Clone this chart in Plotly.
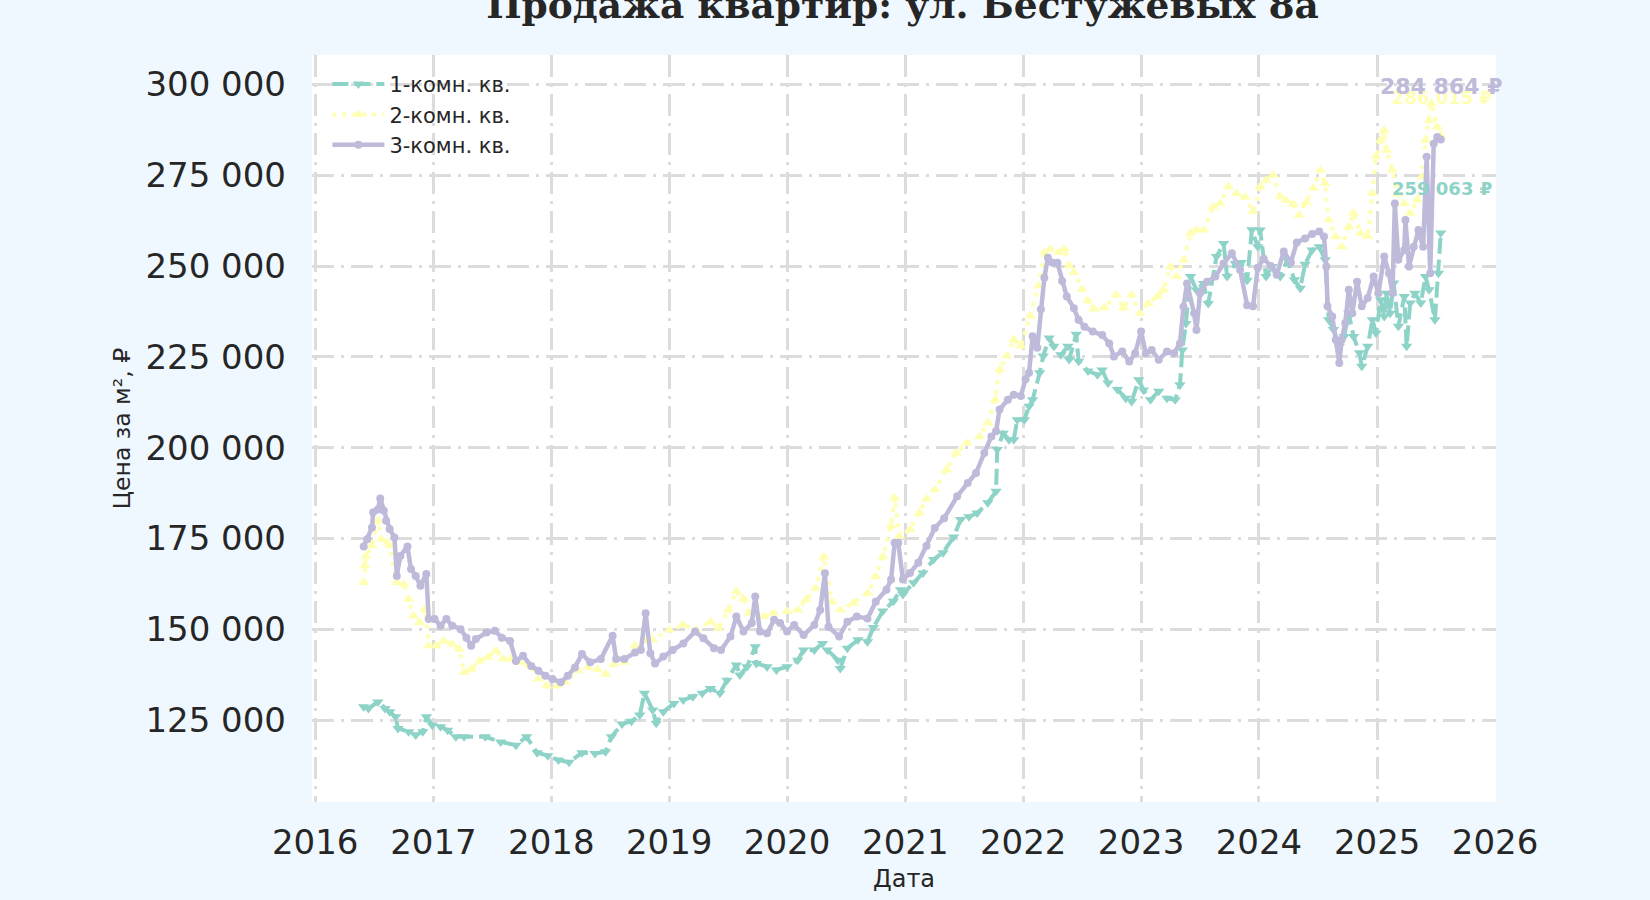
import pandas as pd
import plotly.graph_objects as go

# даты в долях года, цены за м² (тыс. руб.)
years_1k = [2016.41, 2016.45, 2016.53, 2016.59, 2016.63, 2016.68, 2016.70, 2016.79, 2016.85, 2016.91,
            2016.94, 2016.99, 2017.06, 2017.12, 2017.19, 2017.26, 2017.44, 2017.57, 2017.70, 2017.79,
            2017.88, 2017.97, 2018.06, 2018.15, 2018.26, 2018.37, 2018.46, 2018.51, 2018.60, 2018.68,
            2018.75, 2018.79, 2018.86, 2018.89, 2018.95, 2019.04, 2019.12, 2019.20, 2019.28, 2019.35,
            2019.43, 2019.49, 2019.57, 2019.60, 2019.66, 2019.73, 2019.74, 2019.83, 2019.91, 2020.00,
            2020.09, 2020.14, 2020.23, 2020.30, 2020.34, 2020.43, 2020.45, 2020.51, 2020.60, 2020.68,
            2020.73, 2020.81, 2020.90, 2020.96, 2020.98, 2021.07, 2021.15, 2021.24, 2021.32, 2021.41,
            2021.47, 2021.54, 2021.61, 2021.70, 2021.77, 2021.78, 2021.83, 2021.88, 2021.92, 2021.95,
            2022.01, 2022.05, 2022.08, 2022.14, 2022.17, 2022.22, 2022.26, 2022.32, 2022.38, 2022.39,
            2022.45, 2022.47, 2022.55, 2022.63, 2022.67, 2022.72, 2022.80, 2022.87, 2022.92, 2022.98,
            2023.02, 2023.08, 2023.15, 2023.22, 2023.29, 2023.33, 2023.35, 2023.38, 2023.42, 2023.47,
            2023.53, 2023.57, 2023.64, 2023.70, 2023.73, 2023.80, 2023.85, 2023.90, 2023.94, 2023.99,
            2024.01, 2024.06, 2024.11, 2024.18, 2024.24, 2024.30, 2024.35, 2024.39, 2024.45, 2024.51,
            2024.56, 2024.59, 2024.63, 2024.68, 2024.72, 2024.76, 2024.80, 2024.85, 2024.87, 2024.92,
            2024.96, 2024.99, 2025.03, 2025.06, 2025.08, 2025.11, 2025.14, 2025.18, 2025.23, 2025.25,
            2025.28, 2025.32, 2025.37, 2025.41, 2025.44, 2025.49, 2025.52, 2025.54]
price_1k = [128.7, 128.2, 130.0, 128.2, 127.3, 125.9, 122.7, 121.8, 120.9, 121.8,
            125.9, 123.6, 123.2, 122.2, 120.4, 120.4, 120.4, 119.0, 118.1, 120.4,
            116.0, 115.2, 114.0, 113.4, 116.0, 115.8, 116.3, 120.4, 123.9, 124.7,
            126.4, 132.4, 127.8, 124.1, 127.3, 129.6, 130.5, 131.4, 132.4, 133.7,
            132.4, 136.0, 140.2, 137.4, 139.7, 145.2, 140.6, 139.7, 138.8, 139.7,
            141.5, 144.3, 144.3, 146.1, 144.3, 141.5, 139.2, 144.8, 147.1, 146.6,
            150.5, 155.0, 157.7, 160.9, 159.6, 162.8, 165.5, 169.2, 171.1, 175.4,
            180.2, 181.0, 182.0, 184.8, 188.0, 199.5, 204.0, 202.2, 202.2, 207.7,
            207.7, 211.4, 213.2, 220.6, 225.2, 230.2, 227.9, 225.6, 227.9, 224.3,
            231.2, 223.8, 221.1, 220.1, 221.4, 217.8, 216.0, 213.6, 212.7, 218.7,
            215.9, 213.2, 215.5, 213.6, 213.2, 217.3, 226.9, 234.2, 247.1, 243.4,
            245.2, 239.7, 252.6, 256.2, 247.1, 250.7, 251.0, 246.1, 260.0, 255.3,
            259.9, 247.1, 249.9, 247.1, 251.7, 246.2, 243.9, 250.5, 254.4, 255.3,
            251.7, 235.2, 232.5, 227.9, 230.6, 237.0, 230.6, 226.1, 222.4, 227.9,
            235.2, 231.6, 240.7, 236.1, 242.5, 237.0, 245.3, 233.4, 241.6, 227.9,
            239.8, 242.5, 239.8, 247.1, 243.5, 235.2, 248.0, 259.063]

years_2k = [2016.41, 2016.42, 2016.43, 2016.48, 2016.53, 2016.56, 2016.61, 2016.63, 2016.69, 2016.75,
            2016.79, 2016.83, 2016.88, 2016.93, 2016.96, 2017.02, 2017.09, 2017.16, 2017.22, 2017.26,
            2017.32, 2017.39, 2017.46, 2017.53, 2017.59, 2017.66, 2017.73, 2017.82, 2017.89, 2017.96,
            2018.05, 2018.12, 2018.22, 2018.31, 2018.39, 2018.46, 2018.53, 2018.62, 2018.71, 2018.79,
            2018.86, 2019.00, 2019.12, 2019.23, 2019.35, 2019.42, 2019.50, 2019.57, 2019.63, 2019.68,
            2019.80, 2019.88, 2020.00, 2020.09, 2020.16, 2020.24, 2020.31, 2020.38, 2020.45, 2020.56,
            2020.68, 2020.75, 2020.81, 2020.88, 2020.91, 2020.95, 2021.04, 2021.12, 2021.18, 2021.25,
            2021.35, 2021.43, 2021.52, 2021.63, 2021.70, 2021.76, 2021.80, 2021.86, 2021.92, 2021.98,
            2022.06, 2022.13, 2022.18, 2022.23, 2022.30, 2022.35, 2022.39, 2022.43, 2022.50, 2022.55,
            2022.60, 2022.69, 2022.79, 2022.85, 2022.92, 2022.99, 2023.06, 2023.14, 2023.19, 2023.25,
            2023.30, 2023.36, 2023.42, 2023.47, 2023.53, 2023.61, 2023.67, 2023.74, 2023.81, 2023.88,
            2023.95, 2024.01, 2024.06, 2024.12, 2024.18, 2024.23, 2024.29, 2024.34, 2024.40, 2024.46,
            2024.52, 2024.56, 2024.59, 2024.65, 2024.70, 2024.76, 2024.80, 2024.86, 2024.92, 2024.96,
            2024.99, 2025.03, 2025.06, 2025.08, 2025.13, 2025.17, 2025.23, 2025.28, 2025.34, 2025.38,
            2025.41, 2025.44, 2025.46, 2025.51, 2025.54]
price_2k = [162.9, 167.5, 170.2, 173.0, 179.9, 174.8, 173.9, 173.0, 162.9, 162.4,
            158.3, 153.7, 151.9, 155.5, 145.5, 145.5, 146.8, 145.9, 144.5, 138.1,
            139.0, 141.3, 142.2, 144.1, 141.8, 141.8, 140.9, 139.9, 136.3, 134.4,
            134.4, 135.4, 138.6, 139.5, 139.0, 137.6, 140.4, 140.9, 145.5, 146.8,
            147.1, 149.8, 151.2, 149.8, 152.1, 150.3, 155.3, 160.4, 158.5, 154.4,
            153.5, 154.4, 154.9, 155.3, 158.1, 161.3, 170.0, 157.6, 155.3, 157.2,
            159.9, 164.5, 170.0, 178.4, 186.2, 175.6, 177.5, 182.1, 185.8, 188.5,
            193.9, 198.5, 201.2, 203.1, 206.8, 213.2, 221.5, 225.2, 229.8, 227.9,
            236.2, 244.5, 253.7, 254.6, 253.7, 254.6, 250.0, 248.2, 243.6, 240.4,
            238.2, 238.5, 242.0, 238.4, 242.0, 237.0, 239.7, 241.6, 243.4, 249.8,
            247.1, 251.6, 259.0, 259.9, 259.9, 266.3, 267.2, 271.8, 270.0, 269.0,
            265.0, 271.8, 273.6, 275.0, 269.1, 268.1, 267.0, 264.0, 267.5, 271.5,
            276.4, 272.7, 262.7, 258.1, 255.3, 260.8, 264.5, 259.0, 258.1, 270.0,
            280.1, 284.6, 287.4, 281.9, 276.4, 270.0, 267.2, 264.5, 268.2, 274.6,
            284.6, 290.1, 294.7, 288.3, 286.015]

years_3k = [2016.41, 2016.44, 2016.48, 2016.49, 2016.53, 2016.55, 2016.58, 2016.60, 2016.63, 2016.67,
            2016.69, 2016.72, 2016.78, 2016.81, 2016.85, 2016.89, 2016.94, 2016.96, 2017.01, 2017.06,
            2017.11, 2017.16, 2017.23, 2017.28, 2017.32, 2017.36, 2017.45, 2017.52, 2017.58, 2017.65,
            2017.70, 2017.76, 2017.83, 2017.89, 2017.95, 2018.01, 2018.08, 2018.14, 2018.20, 2018.26,
            2018.33, 2018.42, 2018.52, 2018.55, 2018.62, 2018.71, 2018.76, 2018.80, 2018.84, 2018.88,
            2018.95, 2019.03, 2019.12, 2019.22, 2019.29, 2019.38, 2019.44, 2019.52, 2019.57, 2019.63,
            2019.70, 2019.73, 2019.77, 2019.83, 2019.89, 2019.94, 2020.00, 2020.06, 2020.14, 2020.23,
            2020.28, 2020.32, 2020.35, 2020.44, 2020.51, 2020.59, 2020.68, 2020.75, 2020.84, 2020.88,
            2020.91, 2020.94, 2020.98, 2021.04, 2021.11, 2021.18, 2021.25, 2021.33, 2021.44, 2021.53,
            2021.60, 2021.67, 2021.73, 2021.77, 2021.80, 2021.87, 2021.92, 2021.98, 2022.02, 2022.05,
            2022.08, 2022.12, 2022.15, 2022.18, 2022.21, 2022.25, 2022.29, 2022.33, 2022.37, 2022.43,
            2022.47, 2022.52, 2022.59, 2022.67, 2022.73, 2022.77, 2022.84, 2022.90, 2022.95, 2023.00,
            2023.04, 2023.09, 2023.15, 2023.22, 2023.28, 2023.33, 2023.36, 2023.39, 2023.45, 2023.47,
            2023.50, 2023.56, 2023.63, 2023.70, 2023.77, 2023.84, 2023.90, 2023.95, 2023.99, 2024.04,
            2024.10, 2024.15, 2024.21, 2024.27, 2024.32, 2024.39, 2024.45, 2024.51, 2024.55, 2024.57,
            2024.58, 2024.62, 2024.65, 2024.68, 2024.70, 2024.73, 2024.76, 2024.79, 2024.83, 2024.87,
            2024.92, 2024.97, 2025.01, 2025.06, 2025.10, 2025.13, 2025.15, 2025.18, 2025.23, 2025.24,
            2025.27, 2025.31, 2025.35, 2025.39, 2025.42, 2025.45, 2025.48, 2025.51, 2025.54]
price_3k = [172.8, 174.8, 178.0, 182.2, 183.0, 186.0, 182.6, 179.9, 177.6, 175.3,
            164.7, 170.2, 172.8, 166.6, 164.7, 162.0, 165.2, 152.8, 152.8, 151.0,
            152.8, 151.0, 150.0, 147.7, 145.5, 147.3, 149.1, 149.6, 147.7, 146.8,
            141.3, 142.7, 139.9, 138.6, 137.2, 136.3, 135.4, 137.2, 139.5, 143.2,
            140.9, 141.8, 148.2, 141.8, 141.8, 143.6, 144.3, 154.4, 143.4, 140.6,
            142.5, 144.3, 146.1, 149.4, 147.5, 144.8, 144.3, 148.0, 153.5, 149.4,
            151.7, 159.0, 149.4, 148.9, 152.6, 151.7, 149.4, 151.2, 148.4, 151.2,
            155.3, 165.4, 150.7, 148.0, 152.1, 153.5, 153.0, 157.6, 160.9, 163.7,
            173.8, 173.8, 163.7, 165.5, 168.3, 172.9, 177.9, 180.6, 186.6, 190.3,
            193.0, 198.5, 203.1, 204.5, 210.5, 213.2, 214.6, 214.2, 218.8, 220.6,
            230.7, 227.5, 238.1, 246.8, 252.3, 250.9, 250.9, 245.9, 241.6, 238.4,
            235.2, 233.3, 232.0, 231.0, 228.7, 225.1, 226.5, 223.7, 226.0, 232.0,
            226.0, 226.9, 224.2, 226.5, 226.0, 228.7, 238.8, 245.2, 237.0, 232.4,
            242.5, 245.7, 247.1, 250.7, 253.5, 249.0, 239.2, 238.9, 249.5, 252.0,
            250.0, 247.6, 254.0, 251.0, 256.5, 257.6, 258.8, 259.5, 258.1, 249.9,
            238.9, 236.1, 229.7, 223.3, 229.7, 234.3, 243.5, 237.0, 245.7, 238.9,
            241.2, 247.1, 242.5, 252.6, 248.0, 242.5, 267.2, 251.7, 254.4, 262.7,
            249.9, 255.3, 259.9, 255.3, 280.1, 248.0, 283.7, 285.5, 284.864]

labels = ["1-комн. кв.", "2-комн. кв.", "3-комн. кв."]
colors = ["#8DD3C7", "#FFFFB3", "#BEBADA"]
last_labels = ["259 063 ₽", "286 015 ₽", "284 864 ₽"]


def to_dates(years):
    out = []
    for y in years:
        yr = int(y)
        start = pd.Timestamp(yr, 1, 1)
        out.append(start + (pd.Timestamp(yr + 1, 1, 1) - start) * (y - yr))
    return out


def to_rub(prices):
    return [p * 1000 for p in prices]


fig = go.Figure()

# подпись 2-комн. лежит под линиями, поэтому текстовым следом
fig.add_trace(go.Scatter(
    x=to_dates([2025.55]), y=[295800], mode="text", text=[last_labels[1]],
    textfont=dict(family="DejaVu Sans", size=18, color=colors[1], weight="bold"),
    showlegend=False, hoverinfo="skip",
))

fig.add_trace(go.Scatter(
    x=to_dates(years_1k), y=to_rub(price_1k), name=labels[0], mode="lines+markers",
    line=dict(color=colors[0], width=4, dash="16px,6px"),
    marker=dict(symbol="triangle-down", size=10, color=colors[0]),
))
fig.add_trace(go.Scatter(
    x=to_dates(years_2k), y=to_rub(price_2k), name=labels[1], mode="lines+markers",
    line=dict(color=colors[1], width=4, dash="4px,6px"),
    marker=dict(symbol="triangle-up", size=10, color=colors[1]),
))
fig.add_trace(go.Scatter(
    x=to_dates(years_3k), y=to_rub(price_3k), name=labels[2], mode="lines+markers",
    line=dict(color=colors[2], width=4.5),
    marker=dict(symbol="circle", size=8, color=colors[2]),
))

fig.add_annotation(x=to_dates([2025.545])[0], y=299400, text=last_labels[2], showarrow=False,
                   font=dict(family="DejaVu Sans", size=22, color=colors[2], weight="bold"))
fig.add_annotation(x=to_dates([2025.55])[0], y=271300, text=last_labels[0], showarrow=False,
                   font=dict(family="DejaVu Sans", size=18, color=colors[0], weight="bold"))

grid = dict(showgrid=True, gridcolor="#DCDCDC", gridwidth=2.5, griddash="22px,7px,3px,7px",
            zeroline=False, showline=False, ticks="",
            tickfont=dict(family="DejaVu Sans", size=34, color="#262626"))

fig.update_layout(
    width=1650, height=900,
    paper_bgcolor="#F0F8FF", plot_bgcolor="#FFFFFF",
    margin=dict(l=312, r=154, t=55, b=98),
    separators=". ",
    title=dict(text="Продажа квартир: ул. Бестужевых 8а", x=0.547, xanchor="center",
               y=0.995, yref="container", yanchor="middle",
               font=dict(family="DejaVu Serif", size=37.5, color="#262626", weight="bold")),
    legend=dict(x=0.013, y=0.988, xanchor="left", yanchor="top", bgcolor="rgba(0,0,0,0)",
                itemwidth=52,
                font=dict(family="DejaVu Sans", size=21, color="#262626"), tracegroupgap=0),
    showlegend=True,
)
fig.update_xaxes(**grid, type="date", range=["2015-12-22", "2026-01-04"], dtick="M12",
                 tickformat="%Y", ticklabelstandoff=17,
                 title=dict(text="Дата", standoff=9,
                            font=dict(family="DejaVu Sans", size=24, color="#262626")))
fig.update_yaxes(**grid, range=[102450, 308100], dtick=25000, tick0=0, tickformat=",d",
                 ticklabelstandoff=25,
                 title=dict(text="Цена за м², ₽", standoff=8,
                            font=dict(family="DejaVu Sans", size=23.5, color="#262626")))

fig.write_html("out.html", config={"displayModeBar": False},
               post_script="document.body.style.margin='0';")
